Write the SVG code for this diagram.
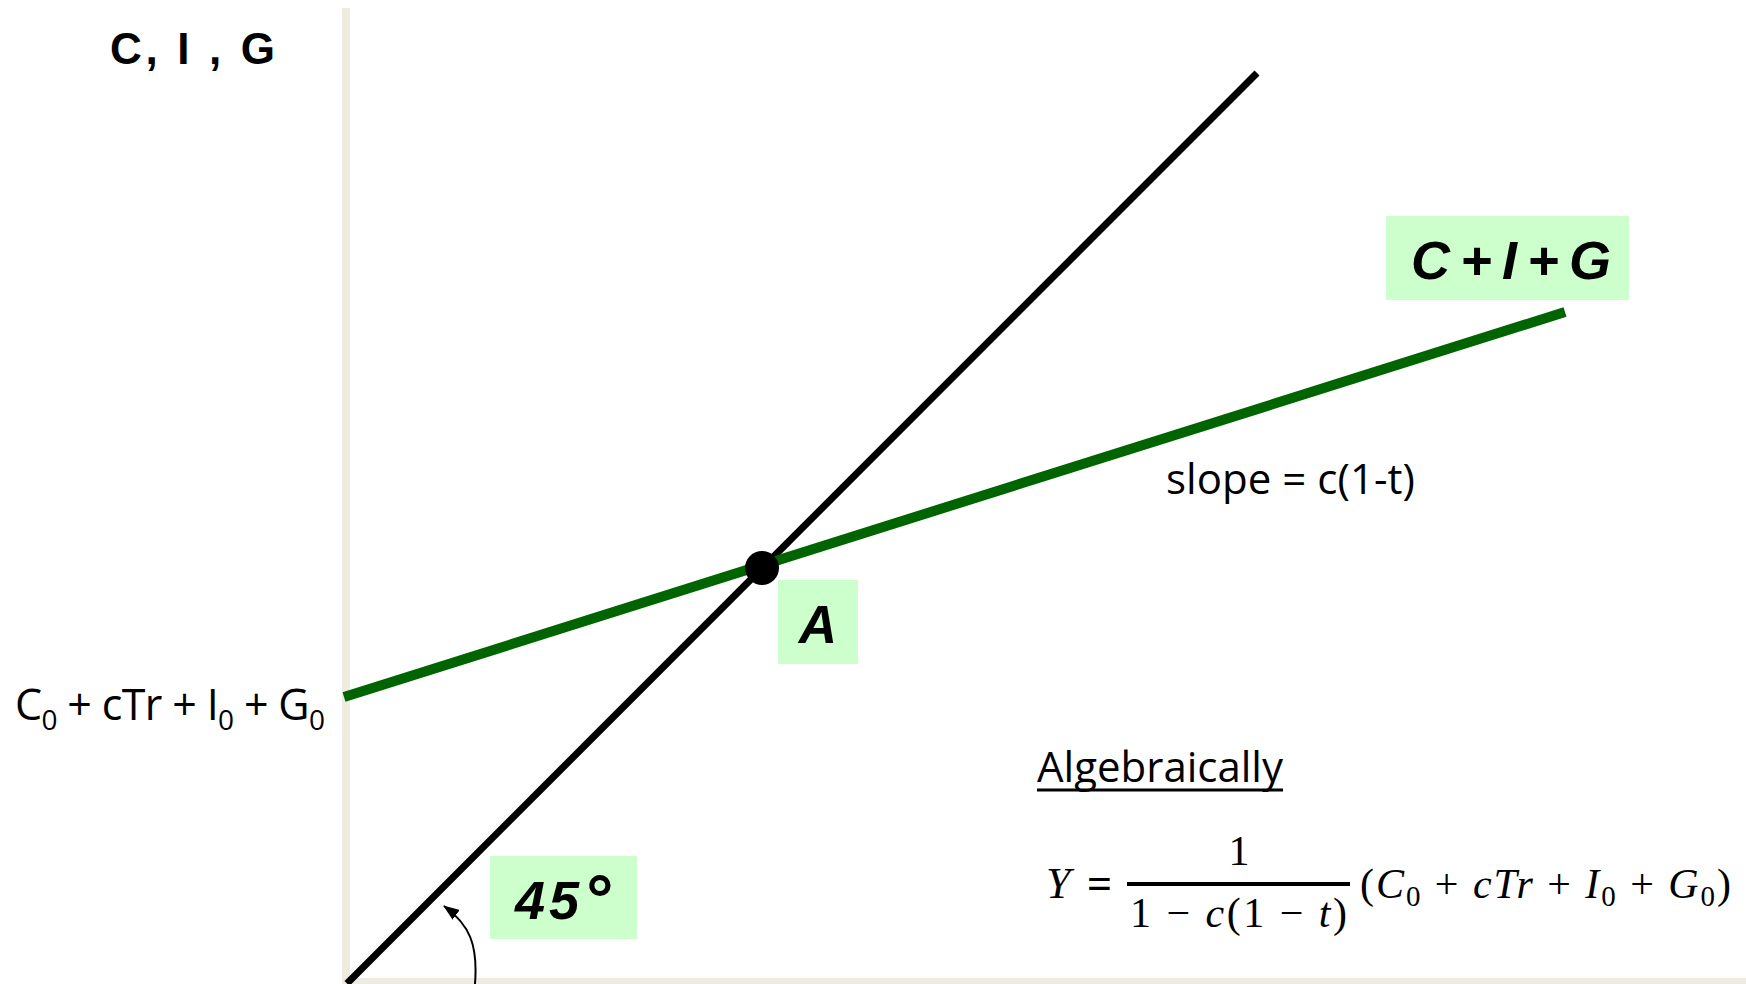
<svg xmlns="http://www.w3.org/2000/svg" width="1746" height="984" viewBox="0 0 1746 984">
<style>
.axis{fill:#EEEBE1}
.box{fill:#CCFFCC}
.lbl{font-family:"Liberation Sans",Arial,sans-serif;font-weight:bold;font-style:italic;fill:#000}
.sans{font-family:"Open Sans","Liberation Sans",sans-serif;fill:#000}
.math{font-family:"Liberation Serif","DejaVu Serif",serif;fill:#000}
.it{font-style:italic}
</style>
<defs>
<marker id="ah" markerUnits="userSpaceOnUse" markerWidth="16" markerHeight="12" refX="15" refY="6" orient="auto">
<path d="M0,0 L16,6 L0,12 Z" fill="#000"/>
</marker>
</defs>
<rect width="1746" height="984" fill="#fff"/>
<g id="axes">
<rect class="axis" x="342" y="8" width="8" height="976"/>
<rect class="axis" x="342" y="978" width="1404" height="6"/>
</g>
<g id="y-axis-label">
<text x="110" y="63.5" font-family="Liberation Sans,Arial,sans-serif" font-weight="bold" font-size="44" textLength="165" lengthAdjust="spacing">C, I , G</text>
</g>
<g id="line-45">
<line x1="347" y1="983.5" x2="1257" y2="73" stroke="#000" stroke-width="7"/>
</g>
<g id="line-cig">
<line x1="344" y1="697" x2="1565" y2="312" stroke="#006400" stroke-width="10"/>
</g>
<g id="point-A">
<circle cx="762" cy="568" r="17" fill="#000"/>
</g>
<g id="label-A">
<rect class="box" x="778" y="580" width="80" height="84"/>
<text class="lbl" x="818" y="643" font-size="53" text-anchor="middle">A</text>
</g>
<g id="label-cig">
<rect class="box" x="1386" y="216" width="243" height="84"/>
<text class="lbl" x="1411" y="279" font-size="54" textLength="200" lengthAdjust="spacing">C+I+G</text>
</g>
<g id="label-45">
<rect class="box" x="490" y="856" width="147" height="83"/>
<text class="lbl" x="515" y="919" font-size="54" letter-spacing="4">45<tspan font-size="68" dy="4">°</tspan></text>
</g>
<g id="intercept-label">
<text class="sans" x="15" y="720" font-size="43" textLength="310" lengthAdjust="spacing">C<tspan font-size="28" dy="10">0</tspan><tspan dy="-10"> + cTr + I</tspan><tspan font-size="28" dy="10">0</tspan><tspan dy="-10"> + G</tspan><tspan font-size="28" dy="10">0</tspan></text>
</g>
<g id="slope-label">
<text class="sans" x="1166" y="494" font-size="42" textLength="249" lengthAdjust="spacing">slope = c(1-t)</text>
</g>
<g id="algebraically">
<text class="sans" x="1037" y="782" font-size="42" textLength="246" lengthAdjust="spacing">Algebraically</text>
<rect x="1037" y="788.5" width="246" height="3" fill="#000"/>
</g>
<g id="formula">
<text class="math it" x="1046" y="898" font-size="44">Y</text>
<text class="math" x="1087" y="898" font-size="44" font-weight="bold">=</text>
<text class="math" x="1239" y="865" font-size="42" text-anchor="middle">1</text>
<rect x="1127" y="882" width="223" height="4" fill="#000"/>
<text class="math" x="1130" y="927" font-size="42" textLength="217" lengthAdjust="spacing">1 − <tspan class="it">c</tspan>(1 − <tspan class="it">t</tspan>)</text>
<text class="math" x="1360" y="898" font-size="42" textLength="371" lengthAdjust="spacing">(<tspan class="it">C</tspan><tspan font-size="29" dy="8">0</tspan><tspan dy="-8"> + </tspan><tspan class="it">cTr</tspan> + <tspan class="it">I</tspan><tspan font-size="29" dy="8">0</tspan><tspan dy="-8"> + </tspan><tspan class="it">G</tspan><tspan font-size="29" dy="8">0</tspan><tspan dy="-8">)</tspan></text>
</g>
<g id="connectors">
<path d="M475,984 C478,945 470,925 444,906" fill="none" stroke="#000" stroke-width="2" marker-end="url(#ah)"/>
</g>
</svg>
